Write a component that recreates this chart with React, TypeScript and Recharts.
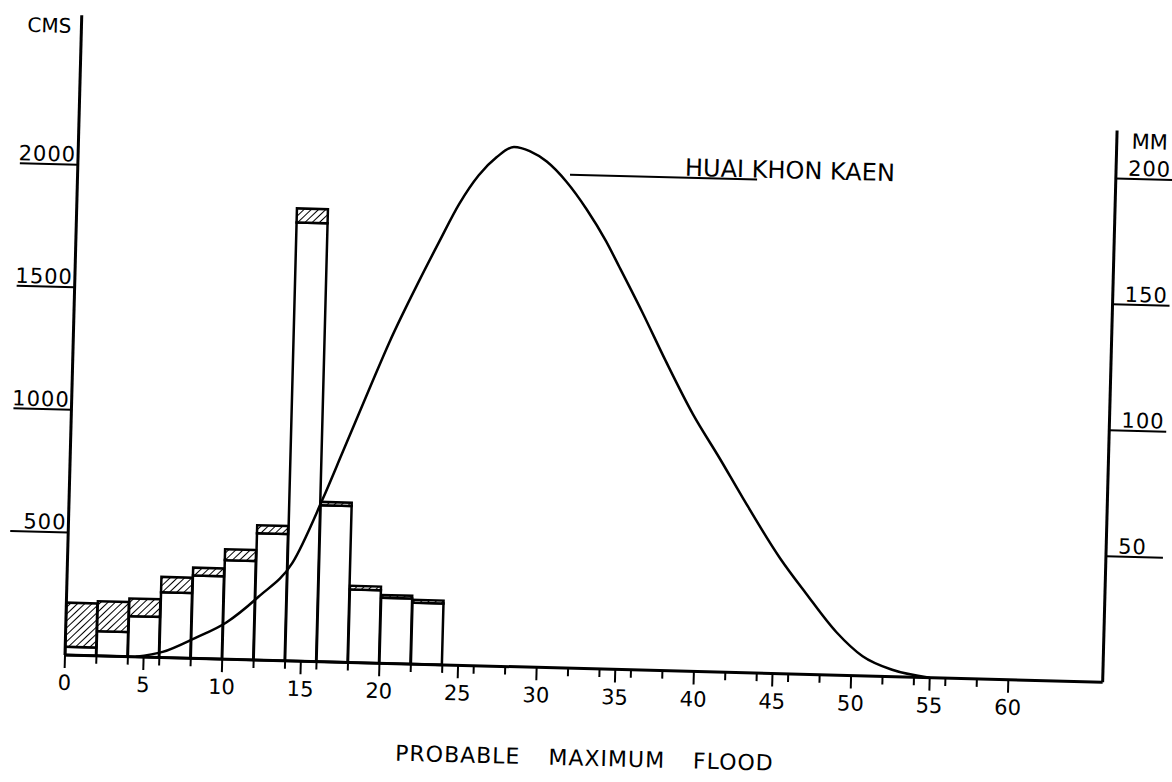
import {
  ComposedChart,
  Bar,
  Line,
  XAxis,
  YAxis,
  ReferenceLine,
  ReferenceDot,
} from "recharts";

// 2-hour rainfall blocks (bar centres, hours)
const rainHour = [1, 3, 5, 7, 9, 11, 13, 15, 17, 19, 21, 23];
// effective rainfall, mm (white part)
const rainEffective = [3.3, 9.8, 16.1, 25.9, 32.9, 39.3, 50.3, 174.0, 62.1, 29.0, 26.0, 24.4];
// losses, mm (hatched part on top)
const rainLoss = [17.5, 11.9, 7.0, 6.1, 3.1, 4.3, 3.2, 5.6, 1.3, 1.4, 1.1, 1.1];

// flood hydrograph, Huai Khon Kaen
const flowHour = [
  4.5, 6.2, 8.2, 10.2, 12.2, 14.3, 16.1, 17.3, 19.1, 20.1, 21.9, 23.1, 24.3, 25.5, 26.6, 27.7, 28.7,
  29.8, 31.1, 32.4, 33.7, 34.6, 36.1, 37.7, 39.5, 41.3, 42.8, 45.3, 47.0, 49.0, 50.7, 52.6, 55.0,
];
const flowCms = [
  0, 23, 82, 150, 258, 400, 660, 855, 1150, 1310, 1565, 1725, 1880, 2000, 2075, 2119, 2104, 2063,
  1982, 1874, 1745, 1640, 1462, 1262, 1050, 870, 715, 470, 330, 175, 80, 28, 0,
];

const timeTicks = [
  0, 2, 4, 5, 6, 8, 10, 12, 14, 15, 16, 18, 20, 22, 24, 25, 26, 28, 30, 32, 34, 35, 36, 38, 40, 42,
  44, 45, 46, 48, 50, 52, 54, 55, 56, 58, 60,
];
const cmsTicks = [500, 1000, 1500, 2000];
const mmTicks = [50, 100, 150, 200];

const FONT = "'DejaVu Sans', Verdana, sans-serif";
const W = 1172;
const H = 782;
const X_MAX = 66;

function TimeTick({ x, y, payload }: any) {
  const v = payload.value;
  const major = v % 5 === 0;
  return (
    <g>
      <line x1={x} y1={y} x2={x} y2={y + (major ? 13 : 8)} stroke="#000" strokeWidth={2} />
      {major && (
        <text x={x} y={y + 35} textAnchor="middle" fontSize={21} fontFamily={FONT} fill="#000">
          {v}
        </text>
      )}
    </g>
  );
}

function CmsTick({ x, y, payload }: any) {
  return (
    <g>
      <line x1={x - 58} y1={y} x2={x} y2={y} stroke="#000" strokeWidth={2} />
      <text
        x={x - 2}
        y={y - 3}
        textAnchor="end"
        fontSize={21}
        letterSpacing={1}
        fontFamily={FONT}
        fill="#000"
      >
        {payload.value}
      </text>
    </g>
  );
}

function MmTick({ x, y, payload }: any) {
  return (
    <g>
      <line x1={x} y1={y} x2={x + 57} y2={y} stroke="#000" strokeWidth={2} />
      <text
        x={x + 12}
        y={y - 3}
        textAnchor="start"
        fontSize={21}
        letterSpacing={1}
        fontFamily={FONT}
        fill="#000"
      >
        {payload.value}
      </text>
    </g>
  );
}

export default function App() {
  const rainData = rainHour.map((t, i) => ({ t, effective: rainEffective[i], loss: rainLoss[i] }));
  const flowData = flowHour.map((t, i) => ({ t, cms: flowCms[i] }));

  return (
    // the drawing sits ~1.5 degrees off square on the sheet
    <div
      style={{
        position: "absolute",
        left: 0,
        top: 0,
        width: W,
        height: H,
        transform: "rotate(1.5deg)",
        transformOrigin: "65px 655px",
      }}
    >
      <ComposedChart
        width={W}
        height={H}
        data={rainData}
        barCategoryGap={0}
        barGap={0}
        margin={{ top: 15, right: 0, bottom: 0, left: 0 }}
      >
        <defs>
          <pattern
            id="hatch"
            patternUnits="userSpaceOnUse"
            width={5}
            height={5}
            patternTransform="rotate(45)"
          >
            <rect width={5} height={5} fill="#fff" />
            <line x1={0} y1={0} x2={0} y2={5} stroke="#000" strokeWidth={2} />
          </pattern>
        </defs>

        <XAxis
          dataKey="t"
          type="number"
          domain={[0, X_MAX]}
          ticks={timeTicks}
          interval={0}
          tick={TimeTick}
          tickLine={false}
          tickSize={0}
          tickMargin={0}
          height={127}
          allowDataOverflow
          axisLine={{ stroke: "#000", strokeWidth: 3 }}
          label={({ viewBox }: any) => (
            <text
              x={viewBox.x + viewBox.width / 2 + 3}
              y={viewBox.y + 97}
              textAnchor="middle"
              fontSize={22}
              letterSpacing={1}
              wordSpacing={20}
              fontFamily={FONT}
              fill="#000"
            >
              PROBABLE MAXIMUM FLOOD
            </text>
          )}
        />
        {/* same time scale for the hydrograph, kept separate so it doesn't narrow the bars */}
        <XAxis xAxisId="flow" dataKey="t" type="number" domain={[0, X_MAX]} hide allowDataOverflow />
        <YAxis
          yAxisId="cms"
          domain={[0, 2610]}
          ticks={cmsTicks}
          width={65}
          tick={CmsTick}
          tickLine={false}
          tickSize={0}
          tickMargin={0}
          axisLine={{ stroke: "#000", strokeWidth: 3 }}
          label={({ viewBox }: any) => (
            <text
              x={viewBox.x + 33}
              y={viewBox.y + 18}
              textAnchor="middle"
              fontSize={20}
              fontFamily={FONT}
              fill="#000"
            >
              CMS
            </text>
          )}
        />
        <YAxis
          yAxisId="mm"
          orientation="right"
          domain={[0, 254]}
          ticks={mmTicks}
          width={69}
          tick={MmTick}
          tickLine={false}
          tickSize={0}
          tickMargin={0}
          axisLine={false}
          label={({ viewBox }: any) => (
            <text
              x={viewBox.x + 33}
              y={viewBox.y + 106}
              textAnchor="middle"
              fontSize={21}
              fontFamily={FONT}
              fill="#000"
            >
              MM
            </text>
          )}
        />

        <Bar
          yAxisId="mm"
          dataKey="effective"
          stackId="rain"
          fill="#fff"
          stroke="#000"
          strokeWidth={2.5}
          isAnimationActive={false}
        />
        <Bar
          yAxisId="mm"
          dataKey="loss"
          stackId="rain"
          fill="url(#hatch)"
          stroke="#000"
          strokeWidth={2.5}
          isAnimationActive={false}
        />

        <Line
          data={flowData}
          xAxisId="flow"
          yAxisId="cms"
          dataKey="cms"
          type="monotone"
          stroke="#000"
          strokeWidth={2.5}
          dot={false}
          isAnimationActive={false}
        />

        {/* right-hand MM axis stops short of the top */}
        <ReferenceLine
          yAxisId="mm"
          segment={[
            { x: X_MAX, y: 0 },
            { x: X_MAX, y: 219 },
          ]}
          stroke="#000"
          strokeWidth={3}
          ifOverflow="visible"
        />

        {/* leader to the curve name */}
        <ReferenceLine
          yAxisId="cms"
          segment={[
            { x: 31.3, y: 2012 },
            { x: 43.2, y: 2012 },
          ]}
          stroke="#000"
          strokeWidth={2}
        />
        <ReferenceDot
          yAxisId="cms"
          x={38.6}
          y={2020}
          r={0}
          fill="none"
          stroke="none"
          label={({ viewBox }: any) => (
            <text
              x={viewBox.x}
              y={viewBox.y}
              textAnchor="start"
              fontSize={24}
              fontFamily={FONT}
              fill="#000"
            >
              HUAI KHON KAEN
            </text>
          )}
        />
      </ComposedChart>
    </div>
  );
}
